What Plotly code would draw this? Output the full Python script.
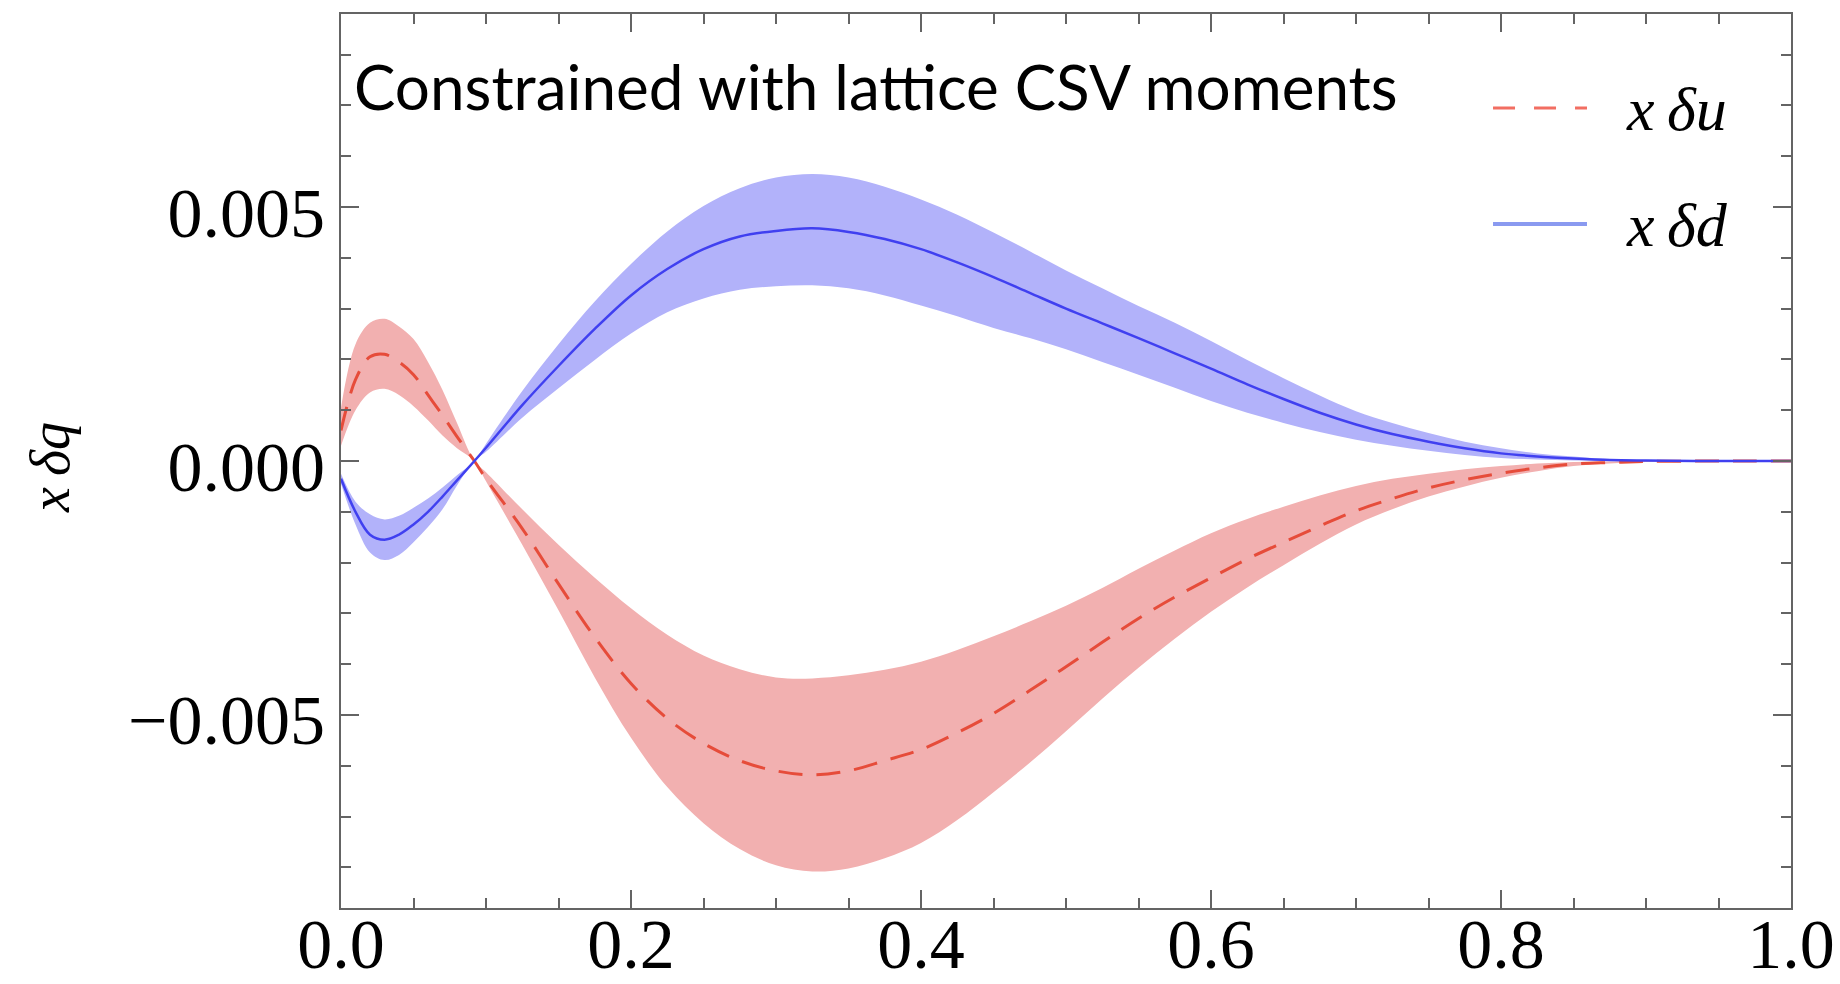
import plotly.graph_objects as go

# Momentum fraction grid
x = [0.0, 0.01, 0.02, 0.03, 0.04, 0.05, 0.06, 0.07, 0.08, 0.092, 0.10,
     0.125, 0.15, 0.175, 0.2, 0.225, 0.25, 0.275, 0.3, 0.325, 0.35, 0.375,
     0.4, 0.425, 0.45, 0.475, 0.5, 0.525, 0.55, 0.575, 0.6, 0.625, 0.65, 0.675,
     0.7, 0.725, 0.75, 0.775, 0.8, 0.825, 0.85, 0.875, 0.9, 0.95, 1.0]

# x*delta_u : central value and uncertainty band (units of 1e-3)
du_mid = [0.60, 1.60, 2.05, 2.10, 1.95, 1.70, 1.30, 0.90, 0.48, 0.0, -0.35,
          -1.33, -2.42, -3.47, -4.38, -5.07, -5.56, -5.90, -6.10, -6.18, -6.10, -5.90,
          -5.68, -5.35, -4.97, -4.52, -4.05, -3.57, -3.10, -2.68, -2.30, -1.93, -1.60, -1.28,
          -0.98, -0.74, -0.53, -0.37, -0.24, -0.14, -0.06, -0.03, -0.01, 0.0, 0.0]
du_hi = [1.05, 2.30, 2.72, 2.80, 2.65, 2.40, 1.95, 1.40, 0.75, 0.0, -0.22,
         -0.95, -1.65, -2.30, -2.90, -3.42, -3.83, -4.10, -4.26, -4.28, -4.22, -4.11,
         -3.95, -3.72, -3.45, -3.16, -2.85, -2.50, -2.12, -1.76, -1.42, -1.14, -0.90, -0.68,
         -0.49, -0.35, -0.25, -0.16, -0.10, -0.05, -0.02, -0.01, 0.0, 0.0, 0.0]
du_lo = [0.30, 1.00, 1.35, 1.42, 1.30, 1.08, 0.80, 0.50, 0.25, 0.0, -0.40,
         -1.65, -2.94, -4.26, -5.45, -6.42, -7.13, -7.64, -7.96, -8.08, -8.02, -7.82,
         -7.52, -7.07, -6.52, -5.94, -5.32, -4.68, -4.07, -3.50, -2.97, -2.49, -2.05, -1.63,
         -1.25, -0.95, -0.70, -0.50, -0.33, -0.20, -0.10, -0.05, -0.02, 0.0, 0.0]

# x*delta_d : central value and uncertainty band (units of 1e-3)
dd_mid = [-0.35, -1.00, -1.45, -1.55, -1.45, -1.25, -1.00, -0.70, -0.38, 0.0, 0.26,
          1.10, 1.87, 2.60, 3.26, 3.78, 4.17, 4.42, 4.53, 4.58, 4.51, 4.37,
          4.17, 3.91, 3.62, 3.31, 3.00, 2.71, 2.42, 2.12, 1.82, 1.51, 1.22, 0.95,
          0.72, 0.53, 0.38, 0.25, 0.15, 0.09, 0.05, 0.02, 0.01, 0.0, 0.0]
dd_hi = [-0.25, -0.80, -1.05, -1.15, -1.08, -0.92, -0.74, -0.52, -0.28, 0.0, 0.34,
         1.38, 2.30, 3.14, 3.88, 4.52, 5.02, 5.37, 5.58, 5.65, 5.58, 5.40,
         5.15, 4.85, 4.50, 4.13, 3.75, 3.40, 3.05, 2.72, 2.36, 1.99, 1.63, 1.29,
         0.98, 0.75, 0.55, 0.38, 0.25, 0.15, 0.09, 0.04, 0.02, 0.0, 0.0]
dd_lo = [-0.45, -1.25, -1.80, -1.95, -1.85, -1.60, -1.30, -0.95, -0.48, 0.0, 0.18,
         0.85, 1.43, 1.99, 2.51, 2.93, 3.20, 3.37, 3.44, 3.46, 3.40, 3.26,
         3.06, 2.85, 2.62, 2.42, 2.20, 1.95, 1.70, 1.44, 1.18, 0.95, 0.75, 0.57,
         0.42, 0.30, 0.20, 0.12, 0.06, 0.03, 0.01, 0.0, 0.0, 0.0, 0.0]

title_text = "Constrained with lattice CSV moments"
label_u = "<i>x\u2009\u03b4u</i>"
label_d = "<i>x\u2009\u03b4d</i>"
y_title = "<i>x\u2009\u03b4q</i>"


def scaled(vals):
    return [v * 1e-3 for v in vals]


RED_FILL = "rgb(242,176,176)"
BLUE_FILL = "rgb(178,178,250)"
RED_LINE = "rgb(230,76,58)"
BLUE_LINE = "rgb(64,64,240)"
AXIS = "rgb(100,100,100)"
SERIF = "Liberation Serif, Times New Roman, serif"
SMOOTH = 1.0

fig = go.Figure()


def band(lo, hi, color):
    fig.add_trace(go.Scatter(x=x, y=scaled(lo), mode="lines",
                             line=dict(width=0, shape="spline", smoothing=SMOOTH),
                             hoverinfo="skip", showlegend=False))
    fig.add_trace(go.Scatter(x=x, y=scaled(hi), mode="lines", fill="tonexty",
                             fillcolor=color,
                             line=dict(width=0, shape="spline", smoothing=SMOOTH),
                             hoverinfo="skip", showlegend=False))


band(du_lo, du_hi, RED_FILL)
band(dd_lo, dd_hi, BLUE_FILL)

fig.add_trace(go.Scatter(x=x, y=scaled(du_mid), mode="lines", name="x δu",
                         line=dict(color=RED_LINE, width=3, dash="24px,14px",
                                   shape="spline", smoothing=SMOOTH),
                         showlegend=False))
fig.add_trace(go.Scatter(x=x, y=scaled(dd_mid), mode="lines", name="x δd",
                         line=dict(color=BLUE_LINE, width=2.5,
                                   shape="spline", smoothing=SMOOTH),
                         showlegend=False))

axis_common = dict(
    showline=True, linecolor=AXIS, linewidth=2, mirror="ticks",
    ticks="inside", tickcolor=AXIS, tickwidth=2, ticklen=18,
    showgrid=False, zeroline=False, automargin=False,
    tickfont=dict(family=SERIF, size=70, color="black"),
)

fig.update_xaxes(range=[0, 1], tick0=0, dtick=0.2, tickformat=".1f",
                 ticklabelstandoff=-26,
                 minor=dict(ticks="inside", ticklen=10, tickwidth=2,
                            tickcolor=AXIS, dtick=0.05, tick0=0, showgrid=False),
                 **axis_common)
fig.update_yaxes(range=[-0.0088, 0.0088], tick0=0, dtick=0.005, tickformat=".3f",
                 ticklabelshift=5,
                 minor=dict(ticks="inside", ticklen=10, tickwidth=2,
                            tickcolor=AXIS, dtick=0.001, tick0=0, showgrid=False),
                 **axis_common)

# Legend drawn as line samples with labels
fig.add_shape(type="line", xref="paper", yref="paper",
              x0=0.7945, x1=0.8593, y0=0.8949, y1=0.8949,
              line=dict(color="rgb(242,110,98)", width=3, dash="22px,19px"))
fig.add_shape(type="line", xref="paper", yref="paper",
              x0=0.7945, x1=0.8593, y0=0.7651, y1=0.7651,
              line=dict(color="rgb(138,154,240)", width=4))

annotations = [
    dict(text=title_text, x=0.0076, y=0.9195, xanchor="left", yanchor="middle",
         font=dict(family="Lato, sans-serif", size=62, color="black")),
    dict(text=label_u, x=0.8848, y=0.8937, xanchor="left", yanchor="middle",
         font=dict(family=SERIF, size=62, color="black")),
    dict(text=label_d, x=0.8848, y=0.7640, xanchor="left", yanchor="middle",
         font=dict(family=SERIF, size=62, color="black")),
    dict(text=y_title, x=-0.2007, y=0.4933, xanchor="center", yanchor="middle",
         textangle=-90, font=dict(family=SERIF, size=56, color="black")),
]
for a in annotations:
    fig.add_annotation(xref="paper", yref="paper", showarrow=False, **a)

fig.update_layout(
    width=1840, height=984, autosize=False,
    margin=dict(l=341, r=49, t=14, b=76),
    paper_bgcolor="white", plot_bgcolor="white",
    showlegend=False,
)

fig.write_html("out.html")
